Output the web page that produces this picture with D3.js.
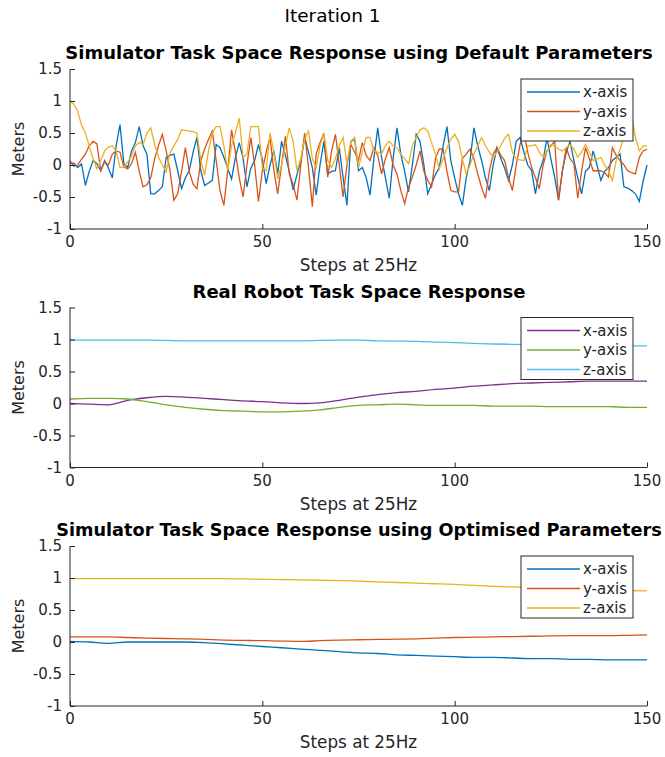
<!DOCTYPE html>
<html>
    <head>
        <script src="https://d3js.org/d3.v7.js"></script>
        <style>
            body{
                margin: 0;
                background: white;
            }
            text{
                font-family: "DejaVu Sans", sans-serif;
            }
        </style>
    </head>
    <body>
        <div class='graph'></div>
        <script>
            const w = 665
            const h = 757

            const seriesNames = ['x-axis', 'y-axis', 'z-axis']
            const xTicks = [0, 50, 100, 150]
            const yTicks = [-1, -0.5, 0, 0.5, 1, 1.5]

            // top panel: one value per step (0..150)
            const simDefaultX = [
                0.02, 0.03, -0.04, 0.02, -0.32, -0.1, 0.07, 0.02, -0.09, 0.07,
                -0.05, -0.2, 0.3, 0.63, 0.02, -0.04, 0.22, 0.35, 0.6, 0.3,
                0.17, -0.45, -0.45, -0.4, -0.34, 0.12, 0.15, 0.17, -0.09, -0.37,
                -0.2, -0.09, 0.2, 0.43, -0.09, -0.32, -0.28, -0.24, 0.32, 0.27,
                0.12, -0.05, -0.22, 0.12, 0.35, 0.1, -0.34, -0.05, 0.07, 0.32,
                0.09, -0.29, 0.0, 0.22, -0.14, 0.37, 0.15, -0.1, -0.39, -0.15,
                0.07, 0.43, 0.2, -0.04, -0.47, 0.0, 0.37, -0.14, -0.1, -0.09,
                0.27, -0.2, -0.63, 0.37, 0.4, -0.09, -0.04, -0.2, -0.47, 0.1,
                0.58, 0.12, -0.2, -0.52, 0.1, 0.58, 0.17, -0.1, -0.42, 0.0,
                0.48, 0.37, 0.0, -0.45, -0.3, -0.15, -0.04, 0.3, 0.6, 0.07,
                -0.2, -0.45, -0.63, -0.2, 0.07, 0.58, 0.3, 0.07, -0.2, -0.4,
                0.0, 0.27, 0.1, -0.05, -0.24, 0.0, 0.37, 0.43, 0.2, 0.0,
                -0.09, -0.45, -0.1, 0.07, 0.43, 0.1, -0.19, -0.55, -0.09, 0.2,
                0.37, 0.07, -0.2, -0.45, -0.1, -0.04, 0.22, 0.0, -0.24, -0.1,
                -0.04, 0.07, 0.12, 0.17, -0.34, -0.36, -0.4, -0.45, -0.57, -0.25,
                0.0
            ]
            const simDefaultY = [
                0.07, -0.02, 0.0, 0.09, 0.17, 0.3, 0.37, 0.33, -0.09, 0.05,
                0.0, 0.17, 0.22, 0.2, -0.03, -0.06, 0.02, 0.2, -0.1, -0.34,
                -0.31, -0.2, 0.1, 0.3, 0.48, 0.22, -0.09, -0.55, -0.45, -0.1,
                0.27, -0.1, -0.3, -0.37, 0.07, 0.25, 0.4, 0.53, 0.07, -0.4,
                -0.63, -0.09, 0.55, 0.2, -0.2, -0.5, 0.0, 0.43, 0.0, -0.57,
                -0.09, 0.2, 0.43, -0.09, -0.45, 0.0, 0.45, -0.14, -0.3, -0.55,
                0.0, 0.5, -0.04, -0.65, 0.17, 0.35, 0.5, -0.19, 0.22, 0.48,
                0.0, -0.5, 0.0, 0.32, 0.2, 0.07, 0.35, 0.15, 0.07, 0.27,
                0.15, -0.14, 0.1, 0.27, 0.0, -0.14, -0.4, -0.6, -0.35, -0.19,
                0.0, 0.22, -0.1, -0.24, -0.34, 0.1, 0.25, 0.25, -0.1, -0.4,
                -0.42, -0.42, 0.1, 0.17, 0.25, 0.1, -0.14, -0.35, -0.52, -0.1,
                0.17, 0.27, 0.15, 0.07, -0.2, -0.4, 0.0, 0.32, 0.5, 0.2,
                -0.04, -0.2, -0.37, 0.0, 0.22, 0.3, 0.37, -0.55, -0.1, 0.27,
                0.1, 0.02, -0.52, -0.1, 0.27, 0.1, -0.09, -0.09, -0.09, -0.12,
                -0.19, 0.27, 0.15, 0.07, 0.0, -0.09, -0.12, -0.14, 0.12, 0.22,
                0.25
            ]
            const simDefaultZ = [
                1.0, 0.95, 0.84, 0.62, 0.5, 0.3, 0.1, -0.06, 0.07, 0.22,
                0.28, 0.3, 0.22, -0.04, -0.03, 0.05, 0.14, 0.3, 0.35, 0.32,
                0.5, 0.58, 0.32, 0.12, 0.0, -0.11, 0.19, 0.3, 0.4, 0.55,
                0.54, 0.53, 0.52, 0.5, 0.07, -0.16, 0.22, 0.5, 0.6, 0.6,
                0.3, -0.09, 0.3, 0.5, 0.73, 0.12, 0.17, 0.6, 0.6, 0.6,
                -0.05, -0.09, 0.5, 0.2, -0.22, 0.0, 0.3, 0.58, 0.37, -0.09,
                0.1, 0.4, 0.53, 0.1, -0.04, 0.3, 0.5, 0.07, -0.04, 0.1,
                0.3, 0.43, 0.02, 0.37, 0.43, -0.04, 0.2, 0.43, 0.43, 0.22,
                0.2, 0.17, 0.3, 0.37, 0.3, 0.27, 0.17, 0.1, 0.02, 0.3,
                0.43, 0.55, 0.58, 0.53, 0.35, 0.17, -0.06, 0.1, 0.27, 0.4,
                0.48, 0.37, 0.1, -0.14, 0.0, 0.17, 0.3, 0.43, 0.3, 0.2,
                0.12, 0.2, 0.3, 0.42, 0.48, 0.2, 0.09, 0.08, 0.07, 0.3,
                0.3, 0.32, 0.2, 0.12, 0.2, 0.32, 0.3, 0.25, 0.22, 0.27,
                0.32, 0.25, 0.12, 0.2, 0.32, 0.2, 0.07, 0.09, 0.12, 0.0,
                -0.09, -0.24, 0.07, 0.25, 0.43, 0.6, 0.76, 0.43, 0.22, 0.3,
                0.3
            ]

            // middle and bottom panels: sampled every 5 steps
            const sampleSteps = [0, 5, 10, 15, 20, 25, 30, 35, 40, 45, 50, 55, 60, 65, 70, 75,
                                 80, 85, 90, 95, 100, 105, 110, 115, 120, 125, 130, 135, 140, 145, 150]
            const realX = [0.0, -0.01, -0.02, 0.05, 0.09, 0.11, 0.1, 0.08, 0.06, 0.04, 0.03, 0.01, 0.0, 0.01, 0.05, 0.1,
                           0.14, 0.17, 0.19, 0.22, 0.24, 0.27, 0.29, 0.31, 0.32, 0.33, 0.34, 0.35, 0.35, 0.35, 0.35]
            const realY = [0.07, 0.08, 0.08, 0.07, 0.03, -0.02, -0.06, -0.09, -0.11, -0.12, -0.13, -0.13, -0.12, -0.1, -0.06, -0.03,
                           -0.02, -0.01, -0.02, -0.03, -0.03, -0.03, -0.04, -0.04, -0.04, -0.05, -0.05, -0.05, -0.05, -0.06, -0.06]
            const realZ = [0.99, 0.99, 0.99, 0.99, 0.99, 0.985, 0.98, 0.98, 0.98, 0.98, 0.98, 0.98, 0.98, 0.985, 0.99, 0.99,
                           0.98, 0.975, 0.97, 0.96, 0.95, 0.94, 0.93, 0.925, 0.92, 0.915, 0.91, 0.905, 0.9, 0.9, 0.9]
            const simOptX = [0.01, 0.0, -0.02, 0.0, 0.0, 0.0, 0.0, -0.01, -0.03, -0.05, -0.07, -0.09, -0.11, -0.13, -0.15, -0.17,
                             -0.18, -0.2, -0.21, -0.22, -0.23, -0.24, -0.24, -0.25, -0.26, -0.26, -0.27, -0.27, -0.28, -0.28, -0.28]
            const simOptY = [0.08, 0.08, 0.08, 0.07, 0.06, 0.055, 0.05, 0.04, 0.03, 0.025, 0.02, 0.015, 0.01, 0.02, 0.03, 0.035,
                             0.04, 0.045, 0.05, 0.06, 0.07, 0.075, 0.08, 0.085, 0.09, 0.095, 0.1, 0.1, 0.1, 0.105, 0.11]
            const simOptZ = [0.99, 0.99, 0.99, 0.99, 0.99, 0.99, 0.99, 0.99, 0.99, 0.985, 0.98, 0.975, 0.97, 0.965, 0.96, 0.95,
                             0.94, 0.93, 0.92, 0.91, 0.9, 0.885, 0.87, 0.86, 0.85, 0.84, 0.83, 0.82, 0.81, 0.805, 0.8]

            const steps = d3.range(0, 151)

            const panels = [
                {title: 'Simulator Task Space Response using Default Parameters', top: 69, titleSize: 18,
                 xs: steps, series: [simDefaultX, simDefaultY, simDefaultZ],
                 colours: ['#0072BD', '#D95319', '#EDB120'], smooth: false},
                {title: 'Real Robot Task Space Response', top: 307.5, titleSize: 18,
                 xs: sampleSteps, series: [realX, realY, realZ],
                 colours: ['#7E2F8E', '#77AC30', '#4DBEEE'], smooth: true},
                {title: 'Simulator Task Space Response using Optimised Parameters', top: 546, titleSize: 17.7,
                 xs: sampleSteps, series: [simOptX, simOptY, simOptZ],
                 colours: ['#0072BD', '#D95319', '#EDB120'], smooth: true}
            ]

            const left = 70
            const right = 647
            const ph = 160
            const axisColour = '#262626'

            const svg = d3.select('.graph')
                    .append('svg')
                    .attr('width', w)
                    .attr('height', h)

            svg.append('text')
                .attr('x', w / 2)
                .attr('y', 22)
                .attr('text-anchor', 'middle')
                .style('font-size', '18.5px')
                .style('fill', '#000')
                .text('Iteration 1')

            const xScale = d3.scaleLinear().domain([0, 150]).range([left, right])

            panels.forEach(p => {
                const yScale = d3.scaleLinear().domain([-1, 1.5]).range([p.top + ph, p.top])
                const g = svg.append('g')

                const line = d3.line()
                    .x((d, i) => xScale(p.xs[i]))
                    .y(d => yScale(d))
                if (p.smooth) line.curve(d3.curveMonotoneX)

                p.series.forEach((s, k) => {
                    g.append('path')
                        .datum(s)
                        .attr('d', line)
                        .attr('fill', 'none')
                        .attr('stroke', p.colours[k])
                        .attr('stroke-width', 1.3)
                })

                // axes, MATLAB style: ticks pointing inward, no box
                const xAxis = d3.axisTop(xScale).tickValues(xTicks).tickSize(5).tickFormat('')
                g.append('g')
                    .attr('transform', 'translate(0,' + (p.top + ph) + ')')
                    .call(xAxis)
                    .call(a => a.select('.domain').attr('d', 'M' + left + ',0H' + right))
                    .call(a => a.selectAll('line, path').attr('stroke', axisColour))

                const yAxis = d3.axisRight(yScale).tickValues(yTicks).tickSize(5).tickFormat('')
                g.append('g')
                    .attr('transform', 'translate(' + left + ',0)')
                    .call(yAxis)
                    .call(a => a.select('.domain').attr('d', 'M0,' + p.top + 'V' + (p.top + ph)))
                    .call(a => a.selectAll('line, path').attr('stroke', axisColour))

                g.selectAll('.xlab')
                    .data(xTicks)
                    .enter()
                    .append('text')
                    .attr('x', d => xScale(d))
                    .attr('y', p.top + ph + 18)
                    .attr('text-anchor', 'middle')
                    .style('font-size', '15px')
                    .style('fill', axisColour)
                    .text(d => d)

                g.selectAll('.ylab')
                    .data(yTicks)
                    .enter()
                    .append('text')
                    .attr('x', left - 8)
                    .attr('y', d => yScale(d) + 5)
                    .attr('text-anchor', 'end')
                    .style('font-size', '15px')
                    .style('fill', axisColour)
                    .text(d => d)

                g.append('text')
                    .attr('x', (left + right) / 2)
                    .attr('y', p.top + ph + 42)
                    .attr('text-anchor', 'middle')
                    .style('font-size', '16.8px')
                    .style('fill', axisColour)
                    .text('Steps at 25Hz')

                g.append('text')
                    .attr('transform', 'translate(24,' + (p.top + ph / 2) + ') rotate(-90)')
                    .attr('text-anchor', 'middle')
                    .style('font-size', '16px')
                    .style('fill', axisColour)
                    .text('Meters')

                g.append('text')
                    .attr('x', (left + right) / 2 + 0.5)
                    .attr('y', p.top - 10)
                    .attr('text-anchor', 'middle')
                    .style('font-size', p.titleSize + 'px')
                    .style('font-weight', 'bold')
                    .style('fill', '#000')
                    .text(p.title)

                // legend
                const lg = g.append('g')
                    .attr('transform', 'translate(521,' + (p.top + 10) + ')')
                lg.append('rect')
                    .attr('width', 112)
                    .attr('height', 62)
                    .attr('fill', 'white')
                    .attr('stroke', axisColour)
                    .attr('stroke-width', 1)

                const item = lg.selectAll('.item')
                    .data(seriesNames)
                    .enter()
                    .append('g')
                    .attr('transform', (d, i) => 'translate(0,' + (13 + i * 19.5) + ')')
                item.append('line')
                    .attr('x1', 6)
                    .attr('x2', 59)
                    .attr('stroke', (d, i) => p.colours[i])
                    .attr('stroke-width', 1.3)
                item.append('text')
                    .attr('x', 62)
                    .attr('y', 5)
                    .style('font-size', '15px')
                    .style('fill', axisColour)
                    .text(d => d)
            })
        </script>
    </body>
</html>
